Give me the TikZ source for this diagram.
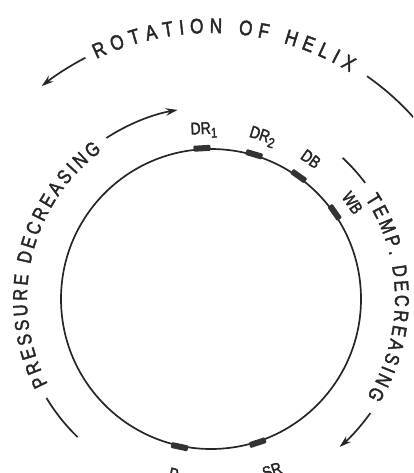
\documentclass[tikz,border=0pt]{standalone}
\usepackage{fontspec}
\setsansfont{Liberation Sans}
\newfontfamily\hand[FakeStretch=0.82,FakeBold=2]{Liberation Sans}
\usetikzlibrary{decorations.text,arrows.meta}
\begin{document}
\begin{tikzpicture}[x=1pt,y=1pt,
  ink/.style={draw=black!85, line width=1.7pt},
  mk/.style={fill=black!80, draw=none, minimum width=17pt, minimum height=6pt, inner sep=0pt, rounded corners=1pt},
  lab/.style={font=\hand\fontsize{17}{17}\selectfont, inner sep=0pt, text=black!85},
  tipped/.style={-{Stealth[length=12pt,width=7.5pt,inset=4pt]}},
  bigtext/.style={decorate, decoration={text along path, text color=black!85, text align={fit to path}}}
]
\useasboundingbox (0,0) rectangle (413,-473);
\clip (0,0) rectangle (413,-473);
\begin{scope}[shift={(211,-299)}]
  % main circle
  \node[circle, ink, minimum size=300pt, inner sep=0pt] (wheel) at (0,0) {};
  % markers
  \node[mk, rotate=3.4]   (mDRa) at (93.4:151) {};
  \node[mk, rotate=-16.6] (mDRb) at (73.4:151) {};
  \node[mk, rotate=-35.5] (mDB)  at (54.5:151) {};
  \node[mk, rotate=-55]   (mWB)  at (35:151) {};
  \node[mk, rotate=-12]   (mP)   at (258:151) {};
  \node[mk, rotate=18]    (mSR)  at (288:151) {};
  % labels
  \node[lab, rotate=2.4]   (lDRa) at (92.4:169) {DR\raisebox{-4pt}{\fontsize{14}{14}\selectfont 1}};
  \node[lab, rotate=-17.6] (lDRb) at (72.4:170) {DR\raisebox{-4pt}{\fontsize{14}{14}\selectfont 2}};
  \node[lab, rotate=-35.5] (lDB)  at (54.5:172) {DB};
  \node[lab, rotate=-55.8] (lWB)  at (34.2:171) {WB};
  \node[lab, rotate=-12]   (lP)   at (258:179) {P};
  \node[lab, rotate=19.6]  (lSR)  at (289.6:182) {SR};
  % outer: rotation of helix
  \path[bigtext, decoration={text={|\hand\fontsize{21}{21}\selectfont|ROTATION OF HELIX}}]
    (115.5:266) arc[start angle=115.5, end angle=58.5, radius=266];
  \draw[ink, tipped] (117.5:272) arc[start angle=117.5, end angle=128.5, radius=272];
  \draw[ink] (55:272) arc[start angle=55, end angle=30, radius=272];
  % left: pressure decreasing
  \path[bigtext, decoration={text={|\hand\fontsize{20}{20}\selectfont|PRESSURE DECREASING}}]
    (207.5:184) arc[start angle=207.5, end angle=126.5, radius=184];
  \draw[ink, tipped] (123:192) arc[start angle=123, end angle=100, radius=192];
  \draw[ink] (226:192) arc[start angle=226, end angle=211, radius=192];
  % right: temp. decreasing
  \path[bigtext, decoration={text={|\hand\fontsize{20}{20}\selectfont|TEMP. DECREASING}}]
    (33:184) arc[start angle=33, end angle=-32, radius=184];
  \draw[ink] (47:193) arc[start angle=47, end angle=37, radius=193];
  \draw[ink, tipped] (-35.6:196) arc[start angle=-35.6, end angle=-49, radius=196];
\end{scope}
\end{tikzpicture}
\end{document}
